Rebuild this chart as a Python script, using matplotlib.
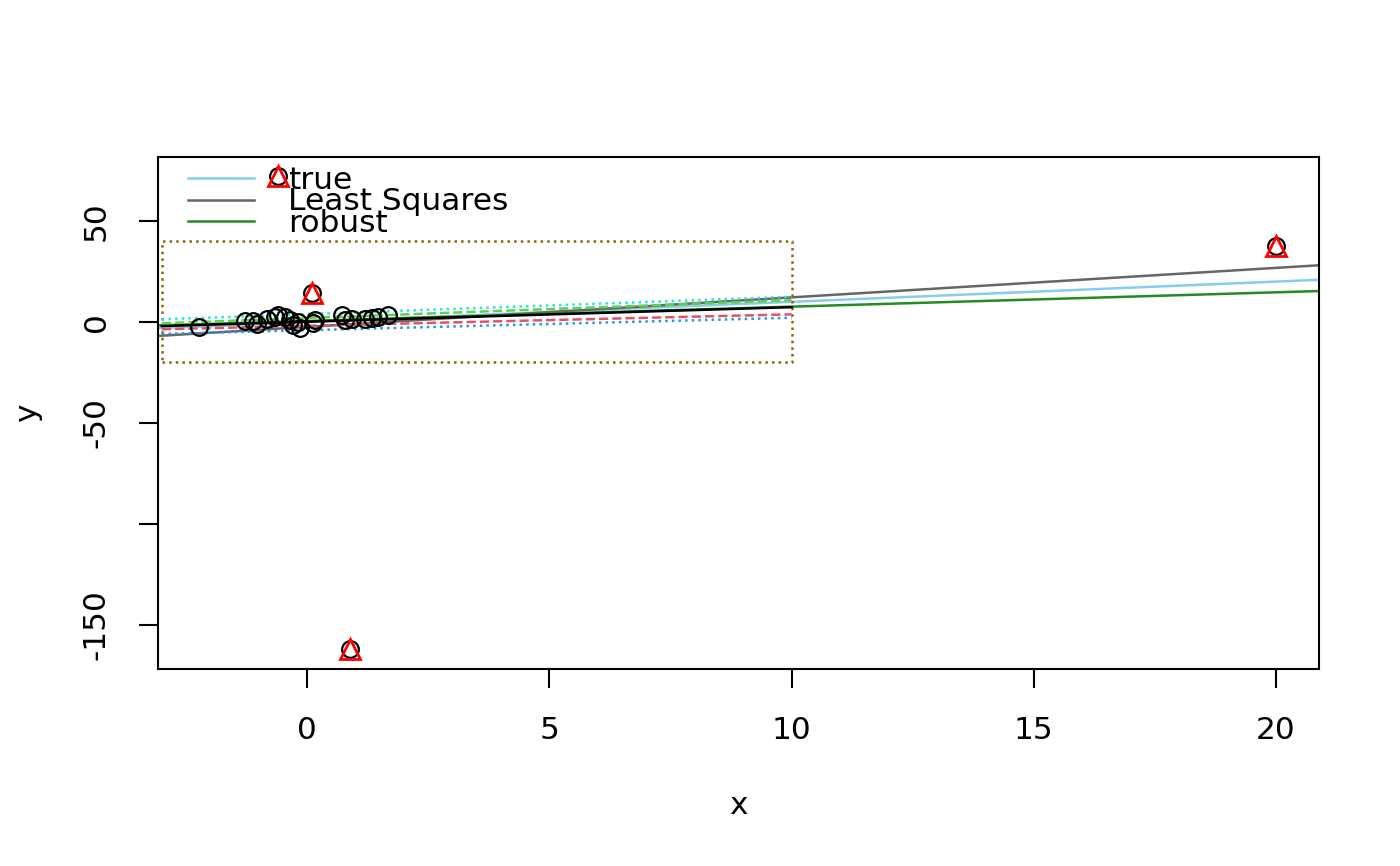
import numpy as np
import matplotlib
matplotlib.use('Agg')
import matplotlib.pyplot as plt
from matplotlib.lines import Line2D

# regular points
x_pts = [-2.23, -1.28, -1.11, -1.03, -0.83, -0.66, -0.60, -0.45, -0.35, -0.29,
         -0.14, -0.19, 0.12, 0.17, 0.72, 0.78, 0.93, 1.20, 1.34, 1.47, 1.67]
y_pts = [-2.5, 0.5, 0.5, -1.0, 1.5, 2.5, 3.5, 2.5, 1.0, -1.5,
         -3.0, 0.0, -0.5, 1.0, 3.5, 1.0, 1.5, 1.5, 2.0, 2.5, 3.5]

# outliers, flagged with red triangles
x_out = [-0.6, 0.1, 0.89, 20.0]
y_out = [72.3, 14.4, -162.0, 37.6]

# full-width lines: (label, intercept, slope, colour)
full_lines = [
    ('true', 0.0, 1.0, '#87CEEB'),
    ('Least Squares', -2.4, 1.46, '#666666'),
    ('robust', 0.5, 0.71, '#228B22'),
]

# short lines inside the dotted box: (intercept, slope, colour, style)
box_lines = [
    (0.15, 0.72, 'black', '-'),
    (-1.9, 0.57, '#DF536B', '--'),
    (2.0, 0.88, '#61D04F', '--'),
    (-4.05, 0.615, '#2297E6', ':'),
    (3.9, 0.86, '#28E2E5', ':'),
]
box_x = [-3, 10]
box_y = [-20, 40]

x_ticks = [0, 5, 10, 15, 20]
y_ticks = [-150, -100, -50, 0, 50]
y_tick_labels = ['-150', '', '-50', '0', '50']

FS = 22.5
LW = 1.8
W, H = 1400, 866

fig = plt.figure(figsize=(14, 8.66), dpi=100)
ax = fig.add_axes([158 / W, 1 - 669 / H, 1161 / W, 512 / H])
ax.set_xlim(-3.08, 20.89)
ax.set_ylim(-171.8, 81.7)

xs = np.array(ax.get_xlim())
for label, a, b, col in full_lines:
    ax.plot(xs, a + b * xs, color=col, lw=LW, zorder=2)

bx = np.array(box_x, dtype=float)
for a, b, col, ls in box_lines:
    ax.plot(bx, a + b * bx, color=col, lw=LW, ls=ls, zorder=3)

# dotted box
ax.plot([box_x[0], box_x[1], box_x[1], box_x[0], box_x[0]],
        [box_y[0], box_y[0], box_y[1], box_y[1], box_y[0]],
        color='#8B6508', lw=LW, ls=':', zorder=2)

ax.plot(x_pts, y_pts, 'o', mfc='none', mec='black', ms=12, mew=1.6, zorder=4)
ax.plot(x_out, y_out, 'o', mfc='none', mec='black', ms=12, mew=1.6, zorder=4)
ax.plot(x_out, y_out, '^', mfc='none', mec='red', ms=15, mew=2.0, zorder=5)

ax.set_xticks(x_ticks)
ax.set_xticklabels([str(t) for t in x_ticks])
ax.set_yticks(y_ticks)
ax.set_yticklabels(y_tick_labels, rotation=90, va='center')
ax.tick_params(axis='both', direction='out', length=14, width=1.5,
               labelsize=FS, pad=20)
for s in ax.spines.values():
    s.set_linewidth(1.5)

ax.set_xlabel('x', fontsize=FS)
ax.set_ylabel('y', fontsize=FS)
ax.xaxis.set_label_coords(0.5, -(805 - 669) / 512)
ax.xaxis.label.set_va('center')
ax.yaxis.set_label_coords(-(158 - 28) / 1161, 0.5)
ax.yaxis.label.set_va('center')

# legend without frame, laid out like R's legend(bty = "n")
row_y = [178.3, 199.5, 220.7]
for (label, a, b, col), py in zip(full_lines, row_y):
    fig.add_artist(Line2D([188 / W, 254 / W], [1 - py / H, 1 - py / H],
                          color=col, lw=LW, transform=fig.transFigure))
    fig.text(288 / W, 1 - (py + 11) / H, label, fontsize=FS,
             ha='left', va='baseline', zorder=6)

fig.savefig('out.png', dpi=100)
